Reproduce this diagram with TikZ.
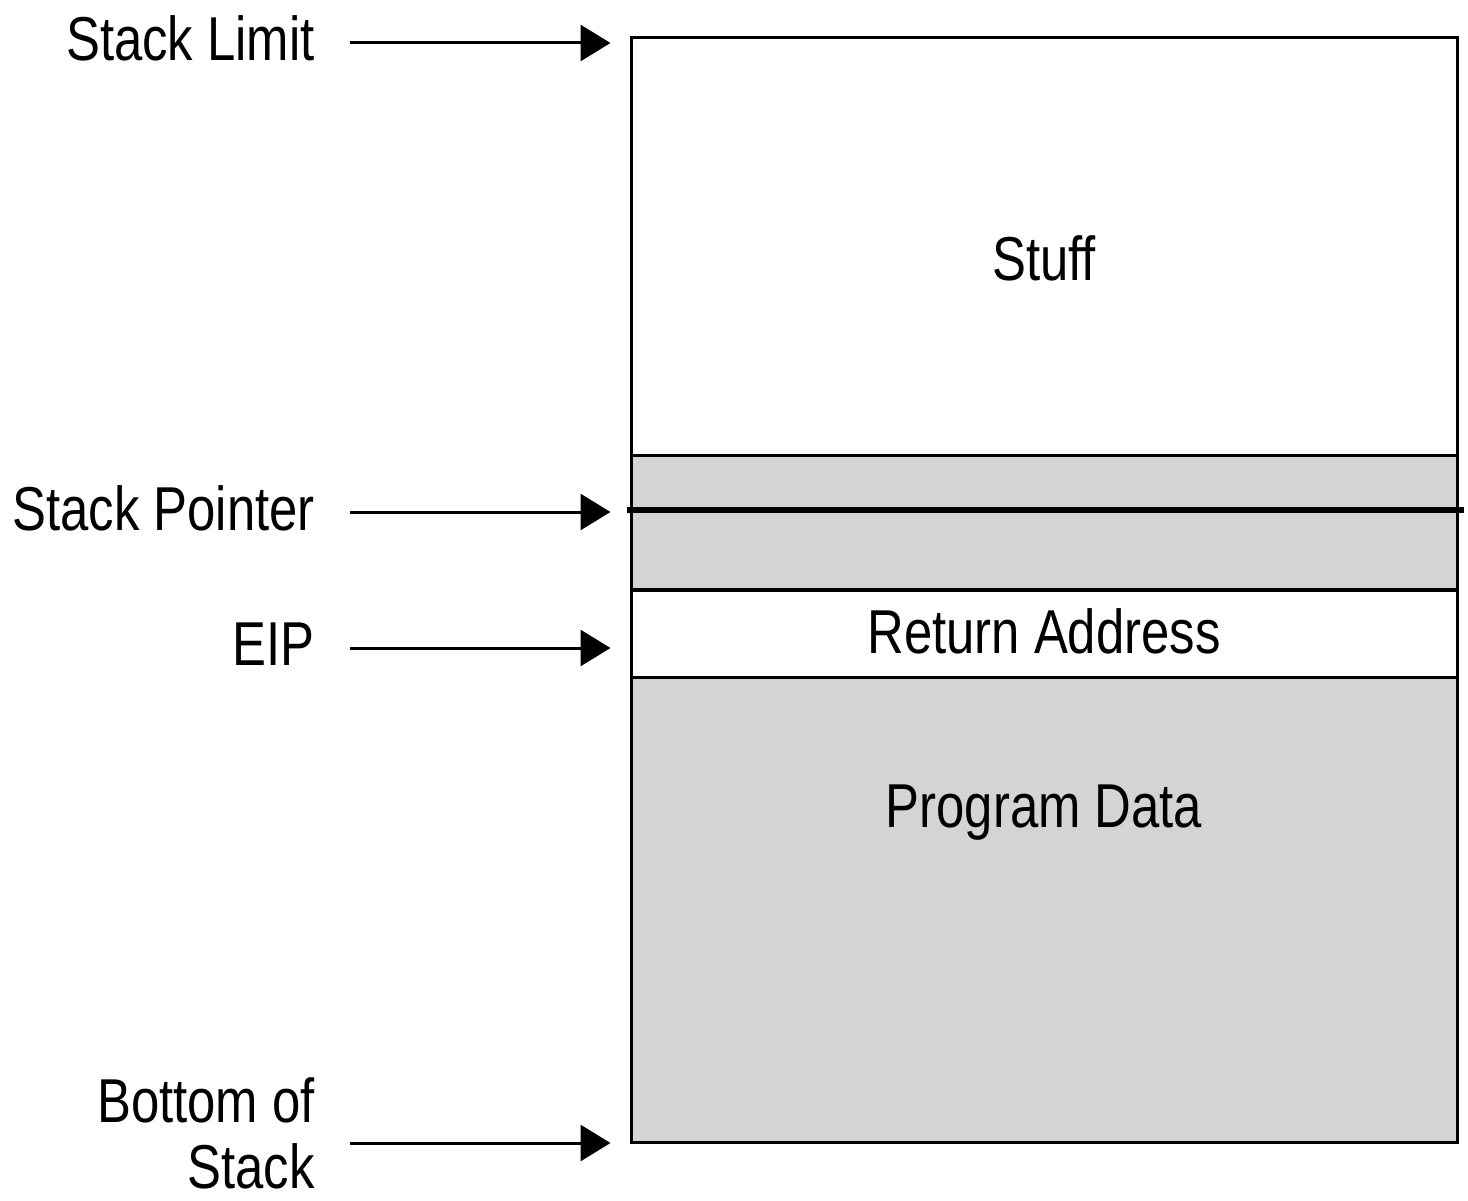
\documentclass[tikz,border=0pt]{standalone}
\usepackage{fontspec}
\setmainfont{Liberation Sans}[FakeStretch=0.82]
\usetikzlibrary{positioning,arrows.meta}

\begin{document}
\begin{tikzpicture}[x=1pt, y=-1pt,
    region/.style={draw, line width=3pt, inner sep=0pt, minimum width=826pt},
    pointer/.style={line width=3pt, -{Triangle[length=30pt, width=36pt]}, shorten >=19pt},
    every node/.style={font=\fontsize{62}{66}\selectfont}]
    \useasboundingbox (0,0) rectangle (1468,1201);

    % Define stack regions (top to bottom)
    \node[region, fill=white, minimum height=417pt] (Stuff) at (1044,246.5) {};
    \node[region, fill=black!17, minimum height=56pt] (SavedUpper) at (1044,483) {};
    \node[region, fill=black!17, minimum height=78pt] (SavedLower) at (1044,550) {};
    \node[region, fill=white, minimum height=87pt] (Return) at (1044,633.5) {};
    \node[region, fill=black!17, minimum height=465pt] (Program) at (1044,909.5) {};

    % Region texts
    \node[anchor=base, inner sep=0pt] (StuffText) at (1044,280) {Stuff};
    \node[anchor=base, inner sep=0pt] (ReturnText) at (1044,653) {Return Address};
    \node[anchor=base, inner sep=0pt] (ProgramText) at (1044,827) {Program Data};

    % Stack pointer line
    \draw[line width=6pt] ([xshift=-3pt]SavedLower.north west) -- ([xshift=5pt]SavedLower.north east);

    % Define labels on the left
    \node[anchor=base east, inner sep=0pt] (Limit) at (315,61) {Stack Limit};
    \node[anchor=base east, inner sep=0pt] (Pointer) at (315,530) {Stack Pointer};
    \node[anchor=base east, inner sep=0pt] (EIP) at (315,665) {EIP};
    \node[anchor=base east, inner sep=0pt, align=right] (Bottom) at (315,1188) {Bottom of\\Stack};

    % Draw arrows
    \coordinate (LimitTail) at (350,43);
    \coordinate (PointerTail) at (350,512);
    \coordinate (EIPTail) at (350,648);
    \coordinate (BottomTail) at (350,1143);
    \draw[pointer] (LimitTail) -- (LimitTail -| Stuff.west);
    \draw[pointer] (PointerTail) -- (PointerTail -| SavedLower.west);
    \draw[pointer] (EIPTail) -- (EIPTail -| Return.west);
    \draw[pointer] (BottomTail) -- (BottomTail -| Program.west);
\end{tikzpicture}
\end{document}
